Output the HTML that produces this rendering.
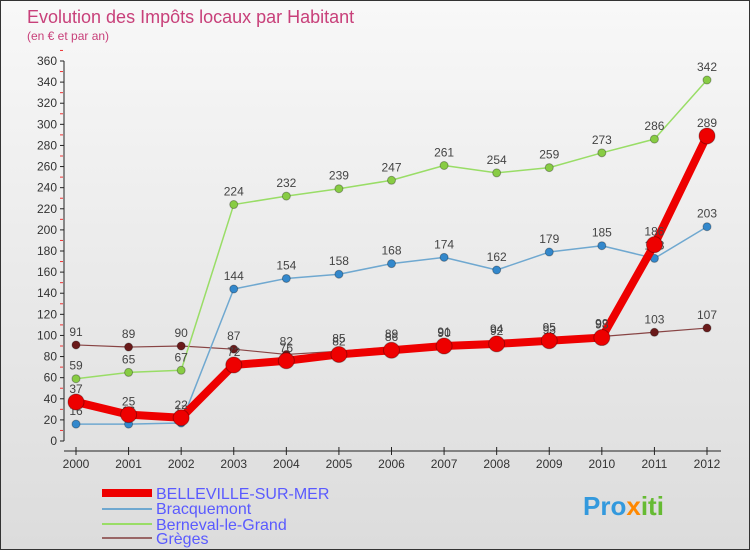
<!DOCTYPE html>
<html><head><meta charset="utf-8"><style>
body{margin:0;width:750px;height:550px;overflow:hidden;font-family:"Liberation Sans",sans-serif}
#c{position:relative;width:748px;height:548px;border:1px solid #333;background:linear-gradient(#f8f8f8,#dcdcdc)}
</style></head><body>
<div id="c">
<svg width="748" height="548" id="svg">
<text x="26" y="22" font-size="18" fill="#c8407a">Evolution des Impôts locaux par Habitant</text>
<text x="26" y="39" font-size="12" fill="#c8407a">(en € et par an)</text>
<g id="axes"></g><g id="series"></g>
<g font-size="16" fill="#5a5aff">
<line x1="101" y1="492" x2="151" y2="492" stroke="#e00" stroke-width="8"/>
<text x="155" y="498">BELLEVILLE-SUR-MER</text>
<line x1="101" y1="508" x2="151" y2="508" stroke="#6fa8d0" stroke-width="2"/>
<text x="155" y="513">Bracquemont</text>
<line x1="101" y1="523" x2="151" y2="523" stroke="#99dd66" stroke-width="2"/>
<text x="155" y="529">Berneval-le-Grand</text>
<line x1="101" y1="537" x2="151" y2="537" stroke="#996666" stroke-width="2"/>
<text x="155" y="543">Grèges</text>
</g>
<text x="582" y="514" font-size="26" font-weight="bold" fill="#3399dd">Pro<tspan fill="#ff8800">x</tspan><tspan fill="#66bb33">iti</tspan></text>
</svg>
</div>
<script>
const years=["2000","2001","2002","2003","2004","2005","2006","2007","2008","2009","2010","2011","2012"];
const yTicks=[0,20,40,60,80,100,120,140,160,180,200,220,240,260,280,300,320,340,360];
const belleville=[37,25,22,72,76,82,86,90,92,95,98,186,289];
const bracquemont=[16,16,17,144,154,158,168,174,162,179,185,173,203];
const berneval=[59,65,67,224,232,239,247,261,254,259,273,286,342];
const greges=[91,89,90,87,82,85,89,91,94,93,99,103,107];
const NS="http://www.w3.org/2000/svg";
const X=i=>75+i*(706-75)/(years.length-1);
const Y=v=>440-v*(380/360);
function mk(t,a,p){const e=document.createElementNS(NS,t);for(const k in a)e.setAttribute(k,a[k]);p.appendChild(e);return e;}
const ax=document.getElementById('axes');
const yAxis=mk('line',{x1:63,y1:Y(0),x2:63,y2:Y(360),stroke:'#222','stroke-width':1},ax);


const xAxis=mk('line',{x1:63,y1:450,x2:720,y2:450,stroke:'#222','stroke-width':1},ax);


yTicks.forEach(v=>{
 mk('line',{x1:59,y1:Y(v),x2:63,y2:Y(v),stroke:'#222'},ax);
 mk('line',{x1:59,y1:Y(v+10),x2:62,y2:Y(v+10),stroke:'#e33'},ax);
 const t=mk('text',{x:56,y:Y(v)+4,'font-size':12,'text-anchor':'end',fill:'#333'},ax);t.textContent=v;
 
 
});
years.forEach((y,i)=>{
 mk('line',{x1:X(i),y1:446,x2:X(i),y2:454,stroke:'#222'},ax);
 const t=mk('text',{x:X(i),y:467,'font-size':12,'text-anchor':'middle',fill:'#333'},ax);t.textContent=y;
 
 
});
const sg=document.getElementById('series');
function series(name,data,color,dot,w,r){
 const g=mk('g',{},sg);
 
 
 const pl=mk('polyline',{points:data.map((v,i)=>X(i)+','+Y(v)).join(' '),fill:'none',stroke:color,'stroke-width':w,'stroke-linejoin':'round'},g);
 
 
 data.forEach((v,i)=>{
  const c=mk('circle',{cx:X(i),cy:Y(v),r:r,fill:dot,stroke:'rgba(0,0,0,0.3)'},g);
  
  
  const t=mk('text',{x:X(i),y:Y(v)-9,'font-size':12,'text-anchor':'middle',fill:'#444'},g);t.textContent=v;
  
  
 });
}
series('greges',greges,'#884444','#6a1a1a',1.2,4);
series('berneval',berneval,'#99dd66','#88cc44',1.5,4);
series('bracquemont',bracquemont,'#6fa8d0','#3388cc',1.5,4);
series('belleville',belleville,'#ee0000','#ee0000',8,8);
</script>
</body></html>
